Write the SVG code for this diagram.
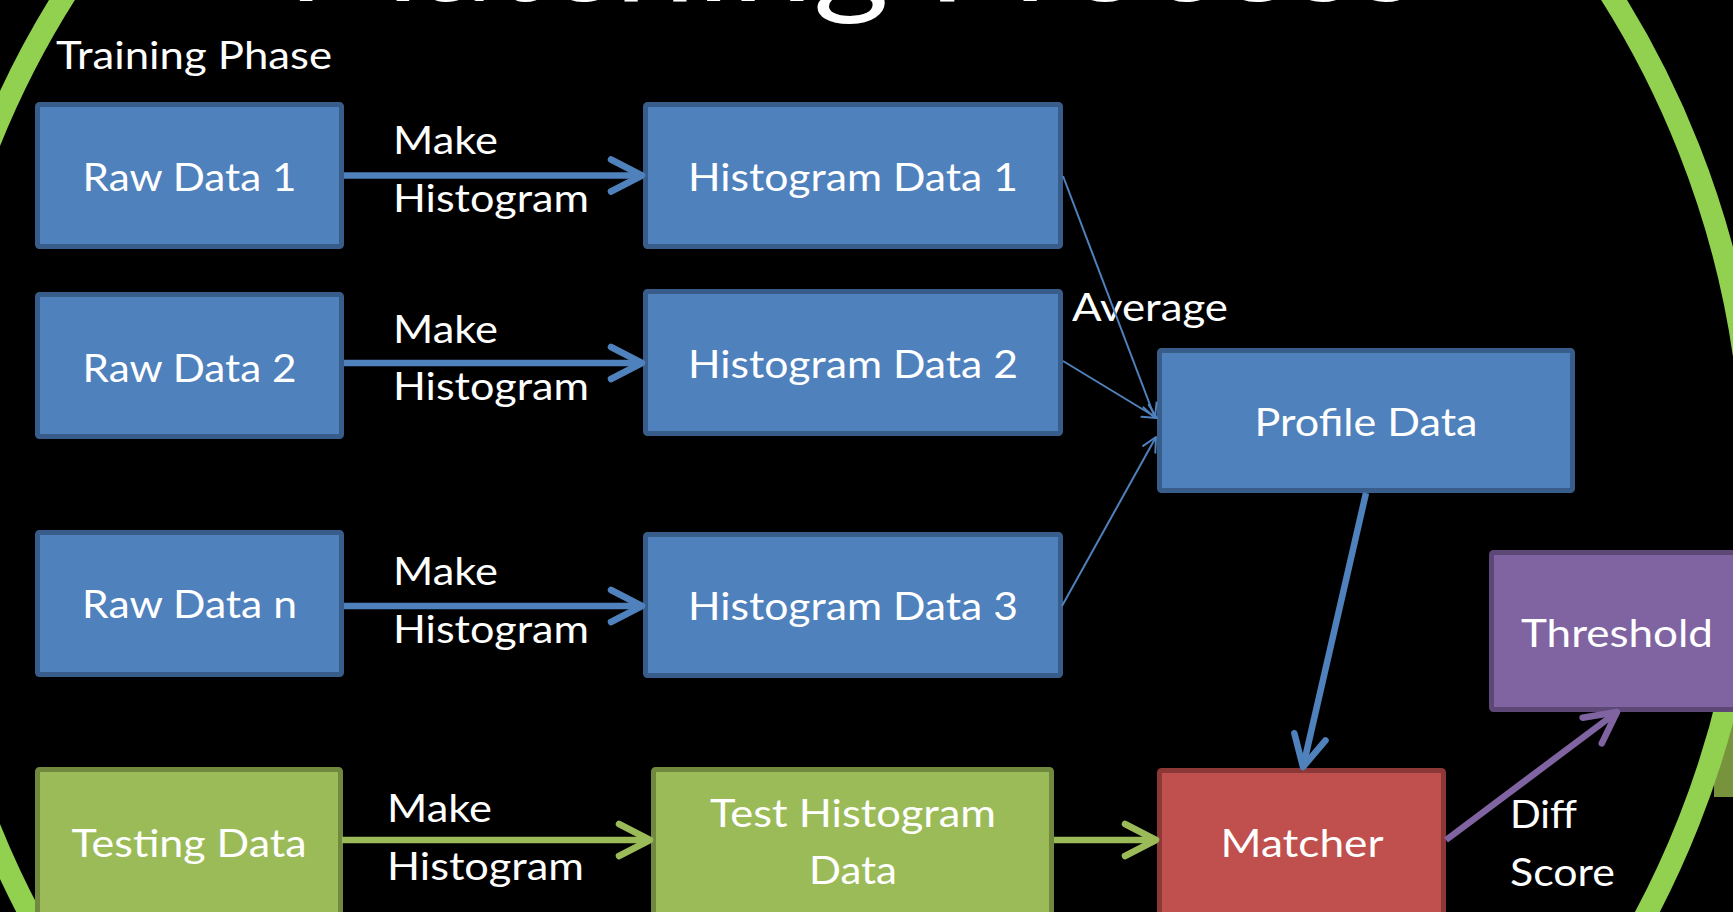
<svg xmlns="http://www.w3.org/2000/svg" width="1733" height="912" viewBox="0 0 1733 912">
<style>
  text { font-family: Lato, "Open Sans", "Liberation Sans", sans-serif; fill: #ffffff; font-size: 38.5px; }
  .mid { text-anchor: middle; }
  .box { stroke-width: 5; }
  .blue { fill: #4F81BD; stroke: #385D8A; }
  .green { fill: #9BBB59; stroke: #71893F; }
  .red { fill: #C0504D; stroke: #8C3836; }
  .purple { fill: #8064A2; stroke: #5C4776; }
  .thick { fill: none; stroke-width: 6.5; }
  .thin { fill: none; stroke: #4F81BD; stroke-width: 2; }
  .title { font-size: 125px; }
</style>
<defs>
  <marker id="ab" markerUnits="userSpaceOnUse" orient="auto" overflow="visible" markerWidth="1" markerHeight="1">
    <path d="M-31,-16 L0,0 L-31,16" fill="none" stroke="#4F81BD" stroke-width="6.5" stroke-linecap="round" stroke-linejoin="round"/>
  </marker>
  <marker id="ag" markerUnits="userSpaceOnUse" orient="auto" overflow="visible" markerWidth="1" markerHeight="1">
    <path d="M-31,-16 L0,0 L-31,16" fill="none" stroke="#9BBB59" stroke-width="6.5" stroke-linecap="round" stroke-linejoin="round"/>
  </marker>
  <marker id="ap" markerUnits="userSpaceOnUse" orient="auto" overflow="visible" markerWidth="1" markerHeight="1">
    <path d="M-31,-16 L0,0 L-31,16" fill="none" stroke="#8064A2" stroke-width="6.5" stroke-linecap="round" stroke-linejoin="round"/>
  </marker>
  <marker id="at" markerUnits="userSpaceOnUse" orient="auto" overflow="visible" markerWidth="1" markerHeight="1">
    <path d="M-14,-7 L0,0 L-14,7" fill="none" stroke="#4F81BD" stroke-width="2" stroke-linecap="round" stroke-linejoin="round"/>
  </marker>
</defs>

<rect x="0" y="0" width="1733" height="912" fill="#000000"/>

<g id="title">
  <text class="mid title" x="853" y="1" textLength="1133" lengthAdjust="spacingAndGlyphs">Matching Process</text>
</g>

<g id="decoration">
  <rect x="1714" y="712" width="40" height="85" fill="#77933C"/>
  <circle cx="838" cy="485" r="915" fill="none" stroke="#92D050" stroke-width="22"/>
</g>

<g id="training-phase-label">
  <text x="56" y="69" textLength="276" lengthAdjust="spacingAndGlyphs">Training Phase</text>
</g>

<g id="raw-data-1">
  <rect class="box blue" x="37.5" y="104.5" width="304" height="142" rx="2"/>
  <text class="mid" x="189.5" y="190.5" textLength="214" lengthAdjust="spacingAndGlyphs">Raw Data 1</text>
</g>
<g id="raw-data-2">
  <rect class="box blue" x="37.5" y="294.5" width="304" height="142" rx="2"/>
  <text class="mid" x="189.5" y="381.5" textLength="214" lengthAdjust="spacingAndGlyphs">Raw Data 2</text>
</g>
<g id="raw-data-n">
  <rect class="box blue" x="37.5" y="532.5" width="304" height="142" rx="2"/>
  <text class="mid" x="189.5" y="618" textLength="215" lengthAdjust="spacingAndGlyphs">Raw Data n</text>
</g>
<g id="testing-data">
  <rect class="box green" x="37.5" y="769.5" width="303" height="146" rx="2"/>
  <text class="mid" x="189" y="857" textLength="235" lengthAdjust="spacingAndGlyphs">Testing Data</text>
</g>

<g id="histogram-data-1">
  <rect class="box blue" x="645.5" y="104.5" width="415" height="142" rx="2"/>
  <text class="mid" x="853" y="191" textLength="330" lengthAdjust="spacingAndGlyphs">Histogram Data 1</text>
</g>
<g id="histogram-data-2">
  <rect class="box blue" x="645.5" y="291.5" width="415" height="142" rx="2"/>
  <text class="mid" x="853" y="378" textLength="330" lengthAdjust="spacingAndGlyphs">Histogram Data 2</text>
</g>
<g id="histogram-data-3">
  <rect class="box blue" x="645.5" y="534.5" width="415" height="141" rx="2"/>
  <text class="mid" x="853" y="620" textLength="330" lengthAdjust="spacingAndGlyphs">Histogram Data 3</text>
</g>
<g id="test-histogram-data">
  <rect class="box green" x="653.5" y="769.5" width="398" height="146" rx="2"/>
  <text class="mid" x="853" y="827" textLength="286" lengthAdjust="spacingAndGlyphs">Test Histogram</text>
  <text class="mid" x="853" y="884" textLength="88" lengthAdjust="spacingAndGlyphs">Data</text>
</g>

<g id="profile-data">
  <rect class="box blue" x="1159.5" y="350.5" width="413" height="140" rx="2"/>
  <text class="mid" x="1366" y="436" textLength="223" lengthAdjust="spacingAndGlyphs">Profile Data</text>
</g>
<g id="matcher">
  <rect class="box red" x="1159.5" y="770.5" width="284" height="146" rx="2"/>
  <text class="mid" x="1302" y="857" textLength="163" lengthAdjust="spacingAndGlyphs">Matcher</text>
</g>
<g id="threshold">
  <rect class="box purple" x="1491.5" y="552.5" width="260" height="157" rx="2"/>
  <text class="mid" x="1617" y="647" textLength="192" lengthAdjust="spacingAndGlyphs">Threshold</text>
</g>

<g id="connectors">
  <text x="393" y="154" textLength="105" lengthAdjust="spacingAndGlyphs">Make</text>
  <text x="393" y="212" textLength="196" lengthAdjust="spacingAndGlyphs">Histogram</text>
  <text x="393" y="343" textLength="105" lengthAdjust="spacingAndGlyphs">Make</text>
  <text x="393" y="400" textLength="196" lengthAdjust="spacingAndGlyphs">Histogram</text>
  <text x="393" y="585" textLength="105" lengthAdjust="spacingAndGlyphs">Make</text>
  <text x="393" y="643" textLength="196" lengthAdjust="spacingAndGlyphs">Histogram</text>
  <text x="387" y="822" textLength="105" lengthAdjust="spacingAndGlyphs">Make</text>
  <text x="387" y="880" textLength="197" lengthAdjust="spacingAndGlyphs">Histogram</text>
  <text x="1072" y="321" textLength="156" lengthAdjust="spacingAndGlyphs">Average</text>
  <text x="1510" y="828" textLength="67" lengthAdjust="spacingAndGlyphs">Diff</text>
  <text x="1510" y="886" textLength="105" lengthAdjust="spacingAndGlyphs">Score</text>

  <line class="thick" stroke="#4F81BD" x1="344" y1="175.5" x2="642" y2="175.5" marker-end="url(#ab)"/>
  <line class="thick" stroke="#4F81BD" x1="344" y1="363" x2="642" y2="363" marker-end="url(#ab)"/>
  <line class="thick" stroke="#4F81BD" x1="344" y1="606" x2="642" y2="606" marker-end="url(#ab)"/>
  <line class="thick" stroke="#9BBB59" x1="342" y1="840" x2="650" y2="840" marker-end="url(#ag)"/>
  <line class="thick" stroke="#9BBB59" x1="1054" y1="840" x2="1156" y2="840" marker-end="url(#ag)"/>
  <line class="thick" stroke="#4F81BD" x1="1366" y1="493" x2="1303" y2="767" marker-end="url(#ab)"/>
  <line class="thick" stroke="#8064A2" x1="1446" y1="840" x2="1617" y2="712" marker-end="url(#ap)"/>
  <line class="thin" x1="1063" y1="176" x2="1155" y2="418" marker-end="url(#at)"/>
  <line class="thin" x1="1063" y1="361" x2="1157" y2="418" marker-end="url(#at)"/>
  <line class="thin" x1="1062" y1="606" x2="1156" y2="437" marker-end="url(#at)"/>
</g>
</svg>
